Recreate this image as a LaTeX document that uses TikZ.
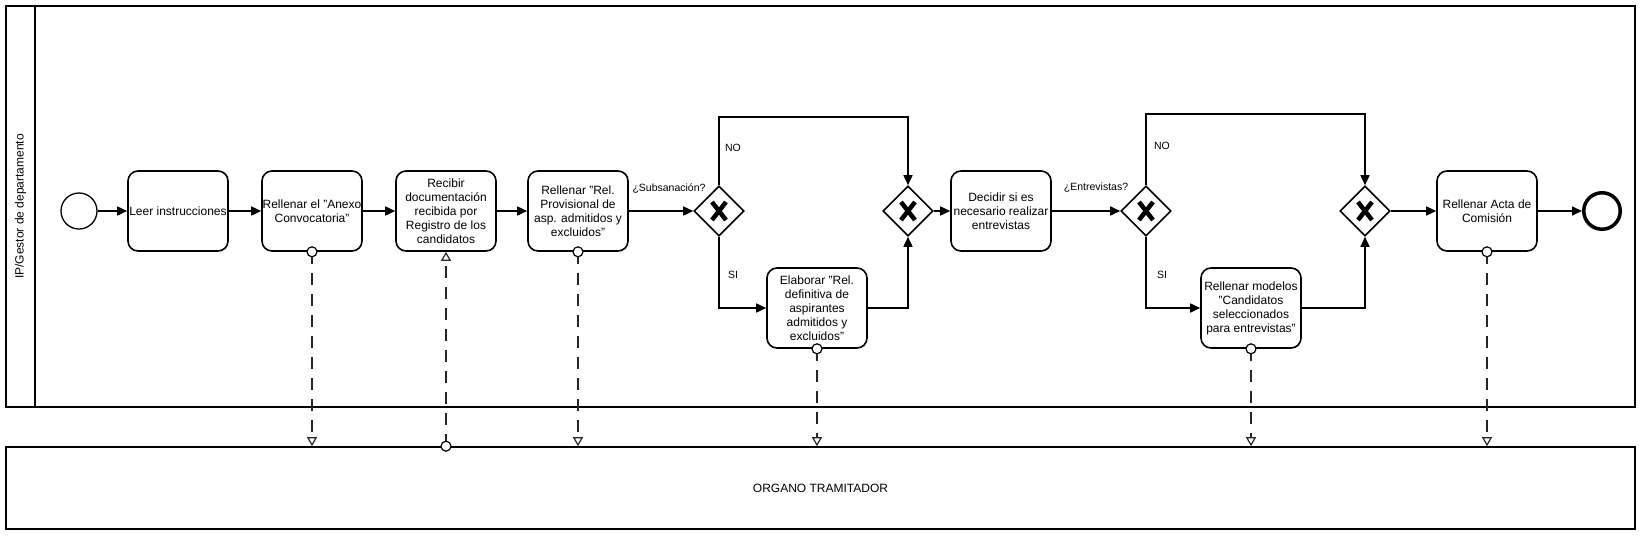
\documentclass[tikz,border=0pt]{standalone}
\usepackage{fontspec}
\setmainfont{Liberation Sans}
\usetikzlibrary{arrows.meta,shapes.geometric,calc}
\begin{document}
\begin{tikzpicture}[x=1pt,y=-1pt,
  every node/.style={font=\fontsize{12}{14}\selectfont},
  task/.style={draw,line width=1.6pt,rounded corners=10pt,minimum width=100pt,minimum height=80pt,inner sep=0pt,align=center},
  gw/.style={draw,diamond,aspect=1,line width=1.6pt,minimum width=50pt,minimum height=50pt,inner sep=0pt,
    path picture={\draw[line width=4.5pt] ([shift={(-7pt,-9pt)}]path picture bounding box.center) -- ([shift={(7pt,9pt)}]path picture bounding box.center) ([shift={(-7pt,9pt)}]path picture bounding box.center) -- ([shift={(7pt,-9pt)}]path picture bounding box.center);}},
  flow/.style={line width=1.6pt,-{Triangle[length=10pt,width=9pt]}},
  msg/.style={line width=1.4pt,draw=black!85,dash pattern=on 12pt off 9pt,-{Triangle[open,length=9pt,width=10pt,line width=1.2pt]}},
  msgdot/.style={circle,draw,fill=white,line width=1.2pt,minimum size=10pt,inner sep=0pt},
  lbl/.style={font=\fontsize{10.5}{12}\selectfont,inner sep=0pt},
  pool/.style={line width=1.6pt}
]
\useasboundingbox (0,0) rectangle (1642,536);

% pool / lane
\draw[pool] (6,6) rectangle (1635,407);
\draw[pool] (35,6) -- (35,407);
\node[rotate=90] (lanelabel) at (20.5,206.5) {IP/Gestor de departamento};
\node[draw,pool,minimum width=1629pt,minimum height=82pt,inner sep=0pt] (organo) at (820.5,488) {ORGANO TRAMITADOR};

% events, tasks, gateways
\node[circle,draw,line width=1.3pt,minimum size=36pt,inner sep=0pt] (start) at (79,211) {};
\node[task] (leer) at (178,211) {Leer instrucciones};
\node[task] (anexo) at (312,211) {Rellenar el "Anexo\\Convocatoria"};
\node[task] (recibir) at (446,211) {Recibir\\documentación\\recibida por\\Registro de los\\candidatos};
\node[task] (relprov) at (578,211) {Rellenar "Rel.\\Provisional de\\asp. admitidos y\\excluidos"};
\node[gw] (g1) at (719,211) {};
\node[task] (elab) at (817,308) {Elaborar "Rel.\\definitiva de\\aspirantes\\admitidos y\\excluidos"};
\node[gw] (g2) at (908,211) {};
\node[task] (decidir) at (1001,211) {Decidir si es\\necesario realizar\\entrevistas};
\node[gw] (g3) at (1146,211) {};
\node[task] (modelos) at (1251,308) {Rellenar modelos\\"Candidatos\\seleccionados\\para entrevistas"};
\node[gw] (g4) at (1365,211) {};
\node[task] (acta) at (1487,211) {Rellenar Acta de\\Comisión};
\node[circle,draw,line width=3.5pt,minimum size=36.5pt,inner sep=0pt] (end) at (1602,211) {};

% sequence flows
\draw[flow] (start) -- (leer);
\draw[flow] (leer) -- (anexo);
\draw[flow] (anexo) -- (recibir);
\draw[flow] (recibir) -- (relprov);
\draw[flow] (relprov) -- (g1);
\coordinate (t1) at (813,117);
\draw[flow] (g1.north) |- (t1) -| (g2.north);
\draw[flow] (g1.south) |- (elab.west);
\draw[flow] (elab.east) -| (g2.south);
\draw[flow] (g2) -- (decidir);
\draw[flow] (decidir) -- (g3);
\coordinate (t2) at (1255,114);
\draw[flow] (g3.north) |- (t2) -| (g4.north);
\draw[flow] (g3.south) |- (modelos.west);
\draw[flow] (modelos.east) -| (g4.south);
\draw[flow] (g4) -- (acta);
\draw[flow] (acta) -- (end);

% labels
\node[lbl] (lsub) at (669,189) {¿Subsanación?};
\node[lbl] (lent) at (1096,188) {¿Entrevistas?};
\node[lbl] (no1) at (733,148) {NO};
\node[lbl] (si1) at (733,275) {SI};
\node[lbl] (no2) at (1162,146) {NO};
\node[lbl] (si2) at (1162,275) {SI};

% message flows
\draw[msg] (anexo.south) -- (anexo.south |- organo.north);
\node[msgdot] (d1) at (anexo.south) {};
\draw[msg] (recibir.south |- organo.north) -- (recibir.south);
\node[msgdot] (d2) at (recibir.south |- organo.north) {};
\draw[msg] (relprov.south) -- (relprov.south |- organo.north);
\node[msgdot] (d3) at (relprov.south) {};
\draw[msg] (elab.south) -- (elab.south |- organo.north);
\node[msgdot] (d4) at (elab.south) {};
\draw[msg] (modelos.south) -- (modelos.south |- organo.north);
\node[msgdot] (d5) at (modelos.south) {};
\draw[msg] (acta.south) -- (acta.south |- organo.north);
\node[msgdot] (d6) at (acta.south) {};
\end{tikzpicture}
\end{document}
